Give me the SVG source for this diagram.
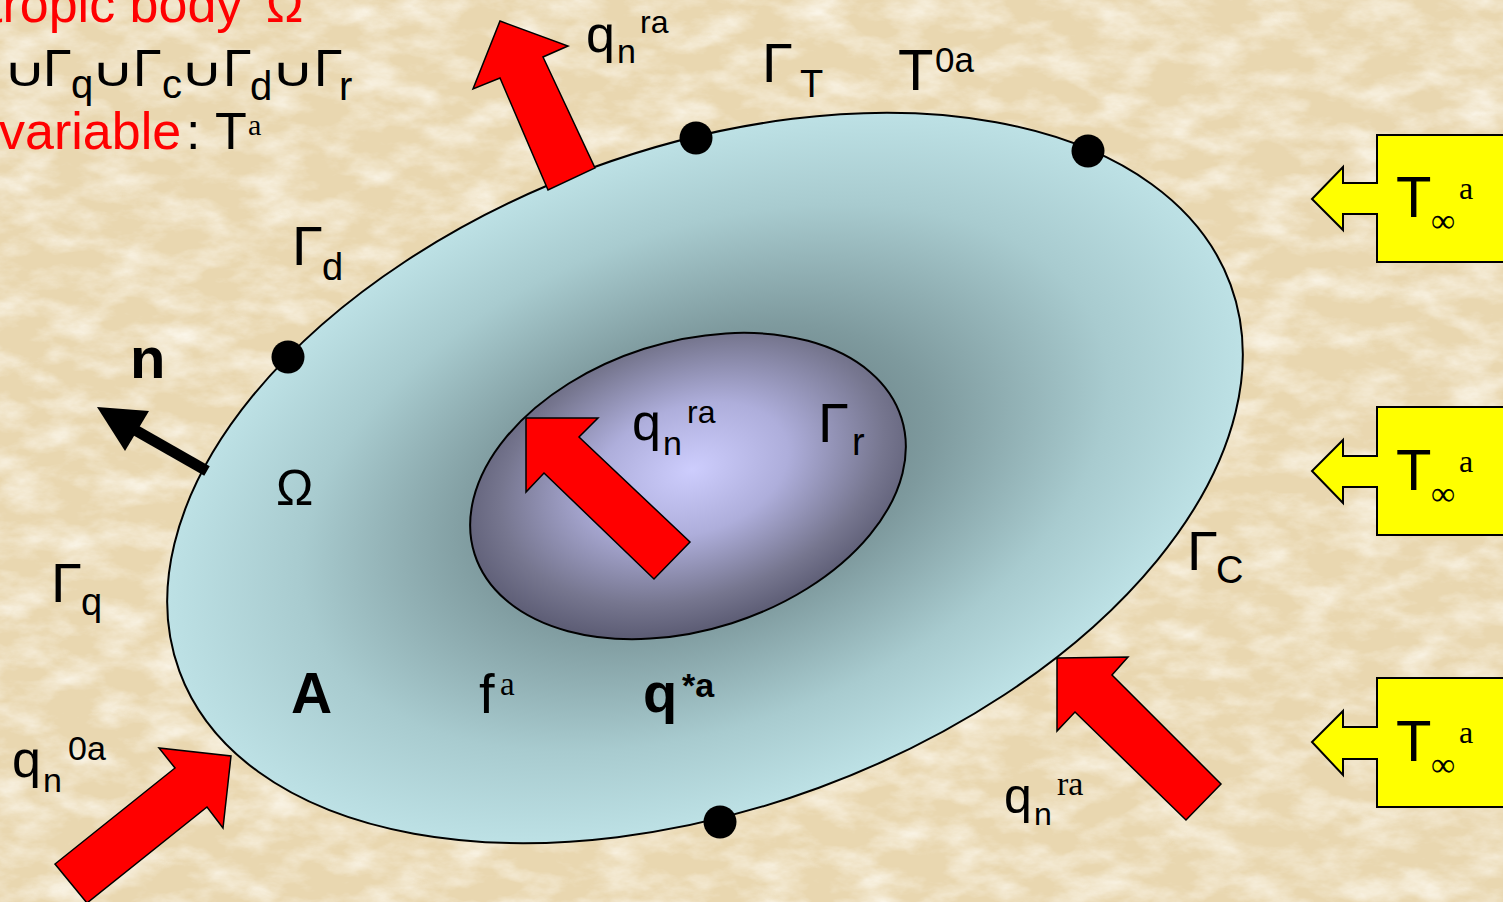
<svg xmlns="http://www.w3.org/2000/svg" width="1503" height="902" viewBox="0 0 1503 902">
<style>
text{font-family:"Liberation Sans",Arial,"DejaVu Sans",sans-serif;fill:#000}
.tm{font-family:"Liberation Serif","Times New Roman",serif}
.cup{font-family:"DejaVu Sans","Liberation Sans",sans-serif;font-size:40px}
.red{fill:#FF0000}
.b{font-weight:bold}
.flux{fill:#FF0000;stroke:#000;stroke-width:1.5;stroke-linejoin:miter}
.call{fill:#FFFF00;stroke:#000;stroke-width:2}
.dot{fill:#000}
</style>
<defs>
<filter id="paper" x="0" y="0" width="100%" height="100%">
<feTurbulence type="fractalNoise" baseFrequency="0.02 0.04" numOctaves="5" seed="7"/>
<feColorMatrix type="matrix" values="0 0 0 0 0.965  0 0 0 0 0.925  0 0 0 0 0.83  1.8 0 0 0 -0.7"/>
</filter>
<radialGradient id="gBody" cx="0.5" cy="0.5" r="0.5">
<stop offset="0" stop-color="#56686e"/>
<stop offset="0.42" stop-color="#7e9a9e"/>
<stop offset="0.75" stop-color="#a8cbcf"/>
<stop offset="1" stop-color="#bde1e5"/>
</radialGradient>
<radialGradient id="gCav" cx="0.52" cy="0.45" r="0.55">
<stop offset="0" stop-color="#cdcdfd"/>
<stop offset="0.4" stop-color="#aeaedb"/>
<stop offset="0.8" stop-color="#76768f"/>
<stop offset="1" stop-color="#5c5c74"/>
</radialGradient>
</defs>

<g id="background">
<rect width="1503" height="902" fill="#E9D7B0"/>
<rect width="1503" height="902" filter="url(#paper)"/>
</g>

<g id="body">
<ellipse cx="705" cy="478" rx="560" ry="330" transform="rotate(-20.2 705 478)" fill="url(#gBody)" stroke="#000" stroke-width="2"/>
</g>

<g id="cavity">
<ellipse cx="688" cy="486" rx="224" ry="144" transform="rotate(-17.7 688 486)" fill="url(#gCav)" stroke="#000" stroke-width="2"/>
</g>

<g id="points">
<circle class="dot" cx="696" cy="138" r="16.5"/>
<circle class="dot" cx="1088" cy="151" r="16.5"/>
<circle class="dot" cx="288" cy="357" r="16.5"/>
<circle class="dot" cx="720" cy="822" r="16.5"/>
</g>

<g id="connectors">
<polygon id="flux-top" class="flux" points="500,21 568,46 543,57 595,168 548,190 500,78 473,89"/>
<polygon id="flux-cavity" class="flux" points="526,418 598,418 579,437 690,542 654,579 544,473 526,492"/>
<polygon id="flux-br" class="flux" points="1057,658 1128,657 1112,675 1221,784 1186,820 1075,712 1057,731"/>
<polygon id="flux-bl" class="flux" points="231,756 223,828 207,807 87,903 55,864 175,768 159,748"/>
<g id="normal">
<line x1="207" y1="471" x2="135" y2="430" stroke="#000" stroke-width="11"/>
<polygon points="97,407 149,411 125,451" fill="#000"/>
</g>
</g>

<g id="ambient-1">
<path class="call" d="M1377,135 H1510 V262 H1377 V214 H1343 V230 L1312,199 L1343,167 V183 H1377 Z"/>
<text x="1396" y="217" font-size="58">T</text>
<text class="tm" x="1431" y="232" font-size="34">∞</text>
<text class="tm" x="1459" y="199" font-size="32">a</text>
</g>
<g id="ambient-2">
<path class="call" d="M1377,407 H1510 V535 H1377 V487 H1343 V503 L1312,471 L1343,440 V456 H1377 Z"/>
<text x="1396" y="490" font-size="58">T</text>
<text class="tm" x="1431" y="505" font-size="34">∞</text>
<text class="tm" x="1459" y="472" font-size="32">a</text>
</g>
<g id="ambient-3">
<path class="call" d="M1377,678 H1510 V807 H1377 V759 H1343 V775 L1312,742 L1343,711 V727 H1377 Z"/>
<text x="1396" y="761" font-size="58">T</text>
<text class="tm" x="1431" y="776" font-size="34">∞</text>
<text class="tm" x="1459" y="743" font-size="32">a</text>
</g>

<g id="title">
<text class="red" x="-12" y="22" font-size="52">tropic body</text>
<text class="red" x="266" y="22" font-size="50">Ω</text>
<text class="cup" transform="translate(3,86) scale(1.5,1)">∪</text>
<text x="43" y="86" font-size="52">Γ</text>
<text x="71" y="98" font-size="40">q</text>
<text class="cup" transform="translate(91,86) scale(1.5,1)">∪</text>
<text x="133" y="86" font-size="52">Γ</text>
<text x="162" y="98" font-size="40">c</text>
<text class="cup" transform="translate(180,86) scale(1.5,1)">∪</text>
<text x="223" y="86" font-size="52">Γ</text>
<text x="250" y="100" font-size="40">d</text>
<text class="cup" transform="translate(271,86) scale(1.5,1)">∪</text>
<text x="314" y="86" font-size="52">Γ</text>
<text x="339" y="100" font-size="40">r</text>
<text class="red" x="-1" y="149" font-size="52">variable</text>
<text x="186" y="149" font-size="52">:</text>
<text x="215" y="149" font-size="52">T</text>
<text class="tm" x="248" y="135" font-size="30">a</text>
</g>

<g id="labels">
<text x="586" y="52" font-size="52">q</text>
<text x="617" y="63" font-size="34">n</text>
<text x="640" y="33" font-size="32">ra</text>

<text x="762" y="82" font-size="56">Γ</text>
<text x="800" y="97" font-size="38">T</text>
<text x="898" y="90" font-size="58">T</text>
<text x="935" y="72" font-size="35">0a</text>

<text x="292" y="265" font-size="56">Γ</text>
<text x="322" y="280" font-size="38">d</text>

<text class="b" x="130" y="378" font-size="58">n</text>
<text x="276" y="505" font-size="50">Ω</text>

<text x="51" y="602" font-size="56">Γ</text>
<text x="81" y="615" font-size="38">q</text>

<text class="b" x="291" y="713" font-size="57">A</text>
<text x="479" y="713" font-size="56">f</text>
<text class="tm" x="500" y="695" font-size="33">a</text>
<text class="b" x="643" y="712" font-size="56">q</text>
<text class="b" x="682" y="697" font-size="34">*a</text>

<text x="632" y="440" font-size="52">q</text>
<text x="663" y="455" font-size="34">n</text>
<text x="687" y="423" font-size="32">ra</text>
<text x="818" y="442" font-size="56">Γ</text>
<text x="852" y="455" font-size="38">r</text>

<text x="1187" y="570" font-size="56">Γ</text>
<text x="1216" y="583" font-size="38">C</text>

<text x="12" y="777" font-size="52">q</text>
<text x="43" y="792" font-size="34">n</text>
<text x="68" y="760" font-size="34">0a</text>

<text x="1004" y="813" font-size="50">q</text>
<text x="1034" y="825" font-size="32">n</text>
<text class="tm" x="1057" y="795" font-size="34">ra</text>
</g>
</svg>
